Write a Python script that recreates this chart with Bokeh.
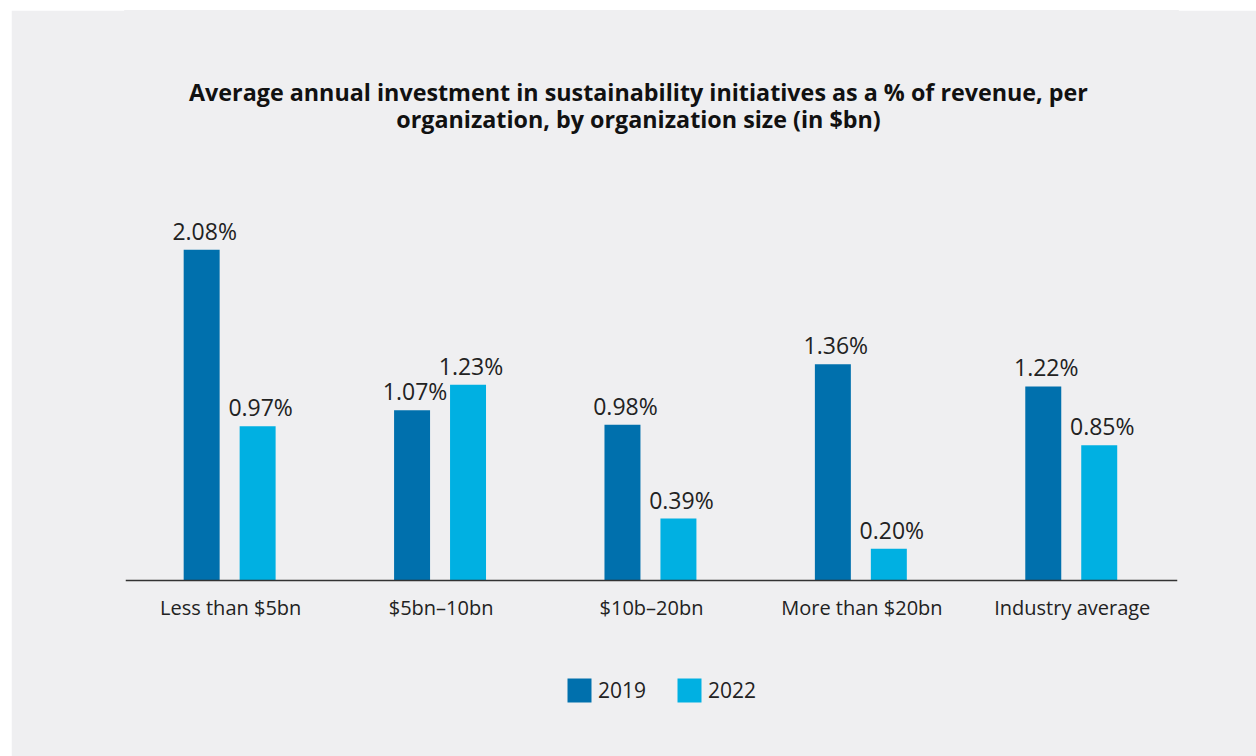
from bokeh.plotting import figure
from bokeh.models import ColumnDataSource, FactorRange, Range1d, Label, Legend, LegendItem
from bokeh.transform import dodge
from bokeh.core.properties import value
from bokeh.embed import file_html
from bokeh.resources import INLINE

categories = ["Less than $5bn", "$5bn\u201310bn", "$10b\u201320bn", "More than $20bn", "Industry average"]
series_names = ["2019", "2022"]
values_2019 = [2.08, 1.07, 0.98, 1.36, 1.22]
values_2022 = [0.97, 1.23, 0.39, 0.20, 0.85]
title_lines = ["Average annual investment in sustainability initiatives as a % of revenue, per",
               "organization, by organization size (in $bn)"]

C2019 = "#0070AD"
C2022 = "#00B0E2"
BG = "#EFEFF1"
FONT = "Open Sans"

src = ColumnDataSource(dict(
    cats=categories,
    v19=values_2019,
    v22=values_2022,
    t19=["%.2f%%" % v for v in values_2019],
    t22=["%.2f%%" % v for v in values_2022],
))

p = figure(x_range=FactorRange(*categories, range_padding=0),
           y_range=Range1d(-0.823, 3.583),
           width=1245, height=746, margin=(10, 0, 0, 11),
           output_backend="svg", toolbar_location=None,
           min_border_left=114, min_border_right=79,
           min_border_top=0, min_border_bottom=45)
p.background_fill_color = BG
p.border_fill_color = BG
p.outline_line_color = BG
p.outline_line_width = 3
p.grid.visible = False
p.yaxis.visible = False

xa = p.xaxis[0]
xa.fixed_location = 0
xa.axis_line_color = "#333333"
xa.axis_line_width = 1.5
xa.major_tick_line_color = None
xa.minor_tick_line_color = None
xa.major_tick_out = 0
xa.major_tick_in = 0
xa.major_label_text_font = FONT
xa.major_label_text_font_size = "20px"
xa.major_label_text_color = "#222222"
xa.major_label_standoff = 13

shift = -0.005
off = 0.133
bw = 0.171
r19 = p.vbar(x=dodge("cats", -off + shift, range=p.x_range), top="v19", width=bw, source=src,
             fill_color=C2019, line_color=None)
r22 = p.vbar(x=dodge("cats", off + shift, range=p.x_range), top="v22", width=bw, source=src,
             fill_color=C2022, line_color=None)

for col, yc, d in (("t19", "v19", -off + shift), ("t22", "v22", off + shift)):
    p.text(x=dodge("cats", d, range=p.x_range), y=yc, text=col, source=src,
           text_align="center", text_baseline="bottom", x_offset=3, y_offset=-3,
           text_font=value(FONT), text_font_size="23px", text_color="#222222")

for line, yv in zip(title_lines, [3.068, 2.898]):
    p.add_layout(Label(x=2.438, y=yv, text=line, text_align="center", text_baseline="alphabetic",
                       text_font=FONT, text_font_size="23.3px", text_font_style="bold",
                       text_color="#111111"))

legend = Legend(items=[LegendItem(label=series_names[0], renderers=[r19]),
                       LegendItem(label=series_names[1], renderers=[r22])],
                orientation="horizontal", location=(439, 6),
                glyph_width=30, glyph_height=30, label_standoff=4, spacing=28,
                padding=0, margin=0, border_line_color=None, background_fill_alpha=0,
                label_text_font=FONT, label_text_font_size="21px", label_text_color="#222222")
p.add_layout(legend)

open("out.html", "w").write(file_html(p, INLINE))
